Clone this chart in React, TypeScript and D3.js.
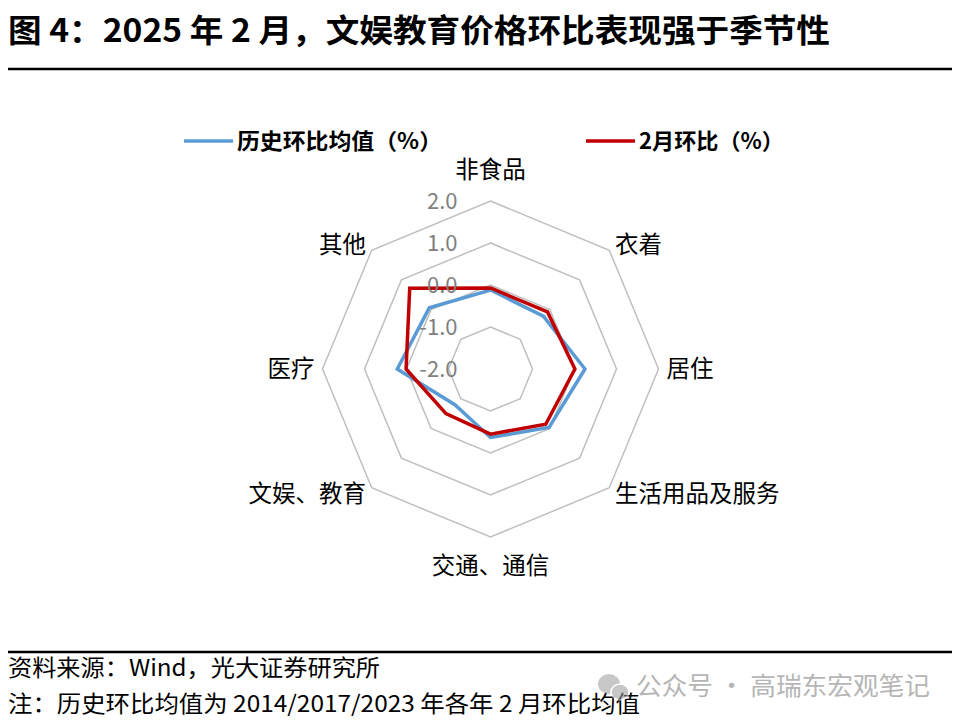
import * as d3 from 'd3';

const categories = ['非食品', '衣着', '居住', '生活用品及服务', '交通、通信', '文娱、教育', '医疗', '其他'];
const histAvg = [-0.12, -0.22, 0.25, -0.03, -0.37, -0.8, 0.22, 0.06];
const febMoM = [-0.07, -0.08, 0.01, -0.14, -0.45, -0.5, 0.01, 0.72];
const ticks = [-2, -1, 0, 1, 2];

const FONT = '"Noto Sans CJK SC", "Noto Sans", sans-serif';

const cx = 490.5;
const cy = 369;
const outerR = 168;

export default function App() {
  const r = d3.scaleLinear().domain([-2, 2]).range([0, outerR]);
  const angle = (i: number) => (i / categories.length) * 2 * Math.PI;

  const radial = d3
    .lineRadial<number>()
    .angle((_, i) => angle(i))
    .radius((v) => r(v))
    .curve(d3.curveLinearClosed);

  const ring = (t: number) => radial(categories.map(() => t)) ?? '';

  const labelPos = (i: number) => {
    const a = angle(i);
    const s = Math.sin(a);
    const c = Math.cos(a);
    let x = cx + (outerR + 8) * s;
    let y = cy - (outerR + 8) * c;
    let anchor: 'start' | 'middle' | 'end' = 'middle';
    if (s > 0.01) anchor = 'start';
    else if (s < -0.01) anchor = 'end';
    if (Math.abs(s) < 0.01) {
      x = cx;
      y += c > 0 ? -23 : 21;
    }
    return { x, y, anchor };
  };

  return (
    <svg
      width={960}
      height={724}
      style={{ position: 'absolute', left: 0, top: 0, background: '#fff' }}
      fontFamily={FONT}
    >
      <text x={8} y={42} fontSize={32} fontWeight={700} fill="#000" textLength={822} lengthAdjust="spacingAndGlyphs">
        图 4：2025 年 2 月，文娱教育价格环比表现强于季节性
      </text>
      <line x1={8} x2={952} y1={69} y2={69} stroke="#000" strokeWidth={2.5} />

      {/* legend */}
      <line x1={184} x2={233} y1={141} y2={141} stroke="#5B9BD5" strokeWidth={3.5} />
      <text x={237} y={141} dy="0.35em" fontSize={22} fontWeight={700} fill="#000" textLength={205} lengthAdjust="spacingAndGlyphs">
        历史环比均值（%）
      </text>
      <line x1={586} x2={635} y1={141} y2={141} stroke="#C00000" strokeWidth={3.5} />
      <text x={639} y={141} dy="0.35em" fontSize={22} fontWeight={700} fill="#000" textLength={145} lengthAdjust="spacingAndGlyphs">
        2月环比（%）
      </text>

      <g transform={`translate(${cx},${cy})`}>
        {ticks
          .filter((t) => t > -2)
          .map((t) => (
            <path key={t} d={ring(t)} fill="none" stroke="#BFBFBF" strokeWidth={1.5} />
          ))}
        <path d={radial(histAvg) ?? ''} fill="none" stroke="#5B9BD5" strokeWidth={3.5} strokeLinejoin="miter" />
        <path d={radial(febMoM) ?? ''} fill="none" stroke="#C00000" strokeWidth={3.5} strokeLinejoin="miter" />
        {ticks.map((t) => (
          <text key={t} x={-33} y={-r(t)} dy="0.35em" textAnchor="end" fontSize={22} fill="#808080">
            {t.toFixed(1)}
          </text>
        ))}
      </g>

      {categories.map((c, i) => {
        const p = labelPos(i);
        return (
          <text key={c} x={p.x} y={p.y} dy="0.35em" textAnchor={p.anchor} fontSize={23.5} fill="#000">
            {c}
          </text>
        );
      })}

      <line x1={8} x2={952} y1={652} y2={652} stroke="#000" strokeWidth={2.5} />
      <text x={8} y={668} dy="0.35em" fontSize={23} fill="#000" textLength={372} lengthAdjust="spacingAndGlyphs">
        资料来源：Wind，光大证券研究所
      </text>
      <text x={8} y={704} dy="0.35em" fontSize={23} fill="#000" textLength={632} lengthAdjust="spacingAndGlyphs">
        注：历史环比均值为 2014/2017/2023 年各年 2 月环比均值
      </text>

      {/* watermark */}
      <g opacity={0.55}>
        <ellipse cx={609} cy={684} rx={11} ry={10} fill="#9a9a9a" />
        <ellipse cx={620} cy={692} rx={9} ry={8} fill="#9a9a9a" stroke="#fff" strokeWidth={1.5} />
        <text x={636} y={686} dy="0.35em" fontSize={25} fill="#7a7a7a" textLength={294} lengthAdjust="spacingAndGlyphs">
          公众号 · 高瑞东宏观笔记
        </text>
      </g>
    </svg>
  );
}
